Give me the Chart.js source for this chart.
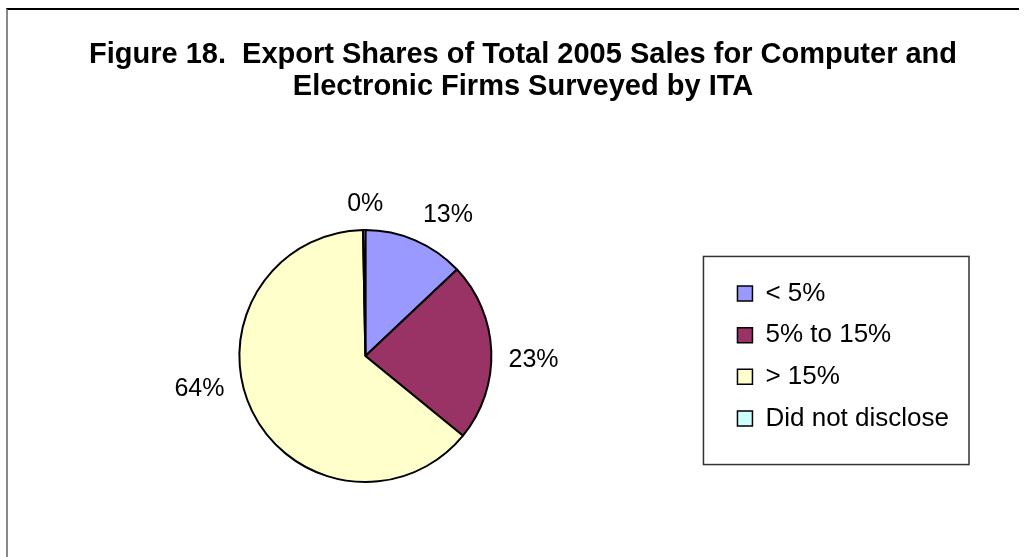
<!DOCTYPE html>
<html>
<head>
<meta charset="utf-8">
<script src="https://cdn.jsdelivr.net/npm/chart.js@4/dist/chart.umd.min.js"></script>
<style>
    html, body { margin: 0; padding: 0; background: #fff; }
    #wrap { position: relative; width: 1029px; height: 557px; overflow: hidden; }
    #frame {
        position: absolute; left: 6px; top: 8px; width: 1011px; height: 600px;
        border-top: 2px solid #000; border-left: 2px solid #888;
        pointer-events: none;
    }
    canvas { position: absolute; left: 0; top: 0; }
</style>
</head>
<body>
<div id="wrap">
    <canvas id="pie" width="1029" height="557"></canvas>
    <div id="frame"></div>
</div>
<script>
// dati
const titleLines = [
    "Figure 18.  Export Shares of Total 2005 Sales for Computer and",
    "Electronic Firms Surveyed by ITA"
];
const categories = ["< 5%", "5% to 15%", "> 15%", "Did not disclose"];
const shares = [13, 23, 64, 0.3];
const colors = ["#9999FF", "#993366", "#FFFFCC", "#CCFFFF"];

const FONT = "'Liberation Sans', Arial, sans-serif";

// titolo su due righe (centrato sulla cornice)
const chartTitle = {
    id: "chartTitle",
    afterDraw(chart, args, opts) {
        const ctx = chart.ctx;
        ctx.save();
        ctx.font = "bold 29px " + FONT;
        ctx.fillStyle = "#000";
        ctx.textAlign = "center";
        ctx.textBaseline = "alphabetic";
        titleLines.forEach((line, i) => {
            ctx.fillText(line, opts.x, opts.y + i * opts.lineHeight);
        });
        ctx.restore();
    }
};

// etichette percentuali fuori dalla torta
const outsideLabels = {
    id: "outsideLabels",
    afterDatasetsDraw(chart, args, opts) {
        const ctx = chart.ctx;
        const meta = chart.getDatasetMeta(0);
        const total = shares.reduce((a, b) => a + b, 0);
        ctx.save();
        ctx.font = "25px " + FONT;
        ctx.fillStyle = "#000";
        ctx.textAlign = "center";
        ctx.textBaseline = "middle";
        meta.data.forEach((arc, i) => {
            const p = arc.getProps(["x", "y", "startAngle", "endAngle", "outerRadius"], true);
            const mid = (p.startAngle + p.endAngle) / 2 + (opts.nudge[i] || 0) * Math.PI / 180;
            const txt = Math.round(shares[i] / total * 100) + "%";
            const w = ctx.measureText(txt).width;
            const h = 18;
            const dx = Math.cos(mid), dy = Math.sin(mid);
            const d = p.outerRadius + opts.gap + Math.abs(dx) * w / 2 + Math.abs(dy) * h / 2;
            ctx.fillText(txt, p.x + dx * d, p.y + dy * d);
        });
        ctx.restore();
    }
};

// cornice della legenda
const legendFrame = {
    id: "legendFrame",
    afterDraw(chart) {
        const boxes = chart.legend.legendHitBoxes;
        if (!boxes || !boxes.length) return;
        const left = Math.min(...boxes.map(b => b.left));
        const right = Math.max(...boxes.map(b => b.left + b.width));
        const top = boxes[0].top;
        const last = boxes[boxes.length - 1];
        const bottom = last.top + last.height;
        const ctx = chart.ctx;
        ctx.save();
        ctx.strokeStyle = "#333";
        ctx.lineWidth = 1.5;
        ctx.strokeRect(left - 34, top - 24, right - left + 54, bottom - top + 57);
        ctx.restore();
    }
};

const ctx = document.getElementById("pie").getContext("2d");

new Chart(ctx, {
    type: "pie",
    data: {
        labels: categories,
        datasets: [{
            data: shares,
            backgroundColor: colors,
            borderColor: "#000",
            borderWidth: 2,
            radius: 126
        }]
    },
    options: {
        responsive: false,
        animation: false,
        layout: { padding: { left: 9, right: 70, top: 195, bottom: 40 } },
        plugins: {
            title: { display: false },
            chartTitle: { x: 523, y: 62.5, lineHeight: 32.5 },
            outsideLabels: { gap: 17, nudge: [7, 3.5, 14.5, 0.5] },
            legend: {
                position: "right",
                fullSize: false,
                labels: {
                    color: "#000",
                    font: { family: FONT, size: 26 },
                    boxWidth: 15,
                    boxHeight: 15,
                    padding: 15.7,
                    generateLabels(chart) {
                        const items = Chart.overrides.pie.plugins.legend.labels.generateLabels(chart);
                        items.forEach(it => { it.lineWidth = 1.5; it.strokeStyle = "#000"; });
                        return items;
                    }
                }
            },
            tooltip: { enabled: false }
        }
    },
    plugins: [outsideLabels, legendFrame, chartTitle]
});
</script>
</body>
</html>
